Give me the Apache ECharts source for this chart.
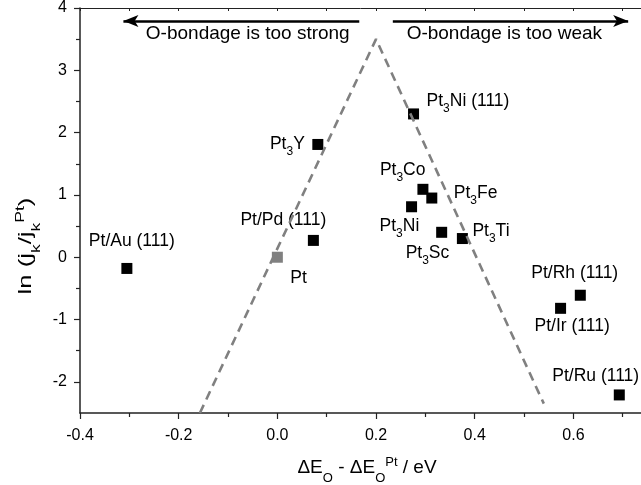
<!DOCTYPE html>
<html>
<head>
<meta charset="utf-8">
<script src="https://cdn.jsdelivr.net/npm/echarts@6/dist/echarts.min.js"></script>
<style>
  html, body { margin: 0; padding: 0; background: #fff; }
  #chart { width: 641px; height: 485px; }
</style>
</head>
<body>
<div id="chart"></div>
<script>
// Catalyst surfaces: oxygen binding energy shift vs. ORR activity
const catalysts = ['Pt/Au (111)', 'Pt', 'Pt/Pd (111)', 'Pt3Y', 'Pt3Ni (111)', 'Pt3Co', 'Pt3Fe',
                   'Pt3Ni', 'Pt3Sc', 'Pt3Ti', 'Pt/Rh (111)', 'Pt/Ir (111)', 'Pt/Ru (111)'];
const deltaEO    = [-0.305, 0.0, 0.073, 0.082, 0.276, 0.295, 0.313, 0.272, 0.333, 0.375, 0.614, 0.574, 0.693];
const lnActivity = [-0.18, 0.0, 0.27, 1.81, 2.30, 1.09, 0.95, 0.81, 0.40, 0.30, -0.61, -0.82, -2.21];

// Volcano guide line (dashed)
const volcanoX = [-0.157, 0.2, 0.54];
const volcanoY = [-2.5, 3.5, -2.35];

// Trend arrows along the top: [from, to] in data units, head at "to"
const arrowY = 3.79;
const strongArrowX = [0.166, -0.312];
const weakArrowX = [0.234, 0.711];

// Axis ticks
const xTicks = [-0.4, -0.2, 0.0, 0.2, 0.4, 0.6];
const xMinorTicks = [-0.3, -0.1, 0.1, 0.3, 0.5, 0.7];
const yTicks = [-2, -1, 0, 1, 2, 3, 4];
const yMinorTicks = [-1.5, -0.5, 0.5, 1.5, 2.5, 3.5];

// Label placement per point: [align, dx, dy] relative to the marker centre (px)
const labelLayout = [
  ['left', -38, -27], ['left', 13, 21], ['left', -73, -20], ['right', -13, 0],
  ['left', 13, -13], ['left', -43, -19], ['left', 22, -5], ['left', -32, 19],
  ['left', -36, 21], ['left', 10, -7], ['left', -49, -22], ['left', -26, 18],
  ['left', -67, -19]
];

const FONT = '"Liberation Sans", Arial, sans-serif';
const AXIS_COLOR = '#222';

const labelRich = {
  m: { fontFamily: FONT, fontSize: 17.5, color: '#000', lineHeight: 19 },
  s: { fontFamily: FONT, fontSize: 12, color: '#000', lineHeight: 12, padding: [15, 0, 0, 0] }
};
function richName(name) {
  const m = name.match(/^Pt3(.*)$/);
  if (m) return '{m|Pt}{s|3}{m|' + m[1] + '}';
  return '{m|' + name + '}';
}

const titleRich = {
  m: { fontFamily: FONT, fontSize: 19, color: '#000', lineHeight: 21 },
  s: { fontFamily: FONT, fontSize: 13, color: '#000', lineHeight: 13, padding: [20, 0, 0, 0] },
  p: { fontFamily: FONT, fontSize: 13, color: '#000', lineHeight: 13, padding: [0, 0, 12, 0] }
};

const points = catalysts.map((name, i) => ({
  name: name,
  value: [deltaEO[i], lnActivity[i]],
  itemStyle: { color: name === 'Pt' ? '#808080' : '#000', opacity: 1 },
  label: {
    show: true,
    position: 'inside',
    align: labelLayout[i][0],
    verticalAlign: 'middle',
    offset: [labelLayout[i][1], labelLayout[i][2]],
    formatter: richName(name),
    rich: labelRich
  }
}));

const chart = echarts.init(document.getElementById('chart'), null, { renderer: 'canvas' });

const xBase = { type: 'value', min: -0.4, max: 0.737, splitLine: { show: false } };
const yBase = { type: 'value', min: -2.5, max: 4, splitLine: { show: false } };

chart.setOption({
  animation: false,
  backgroundColor: '#fff',
  grid: { left: 80, right: 0, top: 8, bottom: 72, containLabel: false },
  xAxis: [
    Object.assign({}, xBase, {
      position: 'bottom',
      axisLine: { show: true, onZero: false, lineStyle: { color: AXIS_COLOR, width: 1.5 } },
      axisTick: { show: true, length: 4, customValues: xMinorTicks, lineStyle: { color: AXIS_COLOR, width: 1.2 } },
      axisLabel: { show: true, customValues: xTicks, margin: 15, color: '#000', fontFamily: FONT, fontSize: 16,
                   formatter: v => v.toFixed(1) }
    }),
    Object.assign({}, xBase, {
      position: 'bottom',
      axisLine: { show: false, onZero: false },
      axisTick: { show: true, length: 6, customValues: xTicks, lineStyle: { color: AXIS_COLOR, width: 1.2 } },
      axisLabel: { show: false }
    }),
    Object.assign({}, xBase, {
      position: 'top',
      axisLine: { show: true, onZero: false, lineStyle: { color: AXIS_COLOR, width: 1 } },
      axisTick: { show: true, inside: true, length: 3, customValues: xTicks.concat(xMinorTicks),
                  lineStyle: { color: AXIS_COLOR, width: 1 } },
      axisLabel: { show: false }
    })
  ],
  yAxis: [
    Object.assign({}, yBase, {
      position: 'left',
      axisLine: { show: true, onZero: false, lineStyle: { color: AXIS_COLOR, width: 1.5 } },
      axisTick: { show: true, length: 4, customValues: yMinorTicks, lineStyle: { color: AXIS_COLOR, width: 1.2 } },
      axisLabel: { show: true, customValues: yTicks, margin: 13, color: '#000', fontFamily: FONT, fontSize: 16 }
    }),
    Object.assign({}, yBase, {
      position: 'left',
      axisLine: { show: false, onZero: false },
      axisTick: { show: true, length: 6, customValues: yTicks, lineStyle: { color: AXIS_COLOR, width: 1.2 } },
      axisLabel: { show: false }
    })
  ],
  series: [
    {
      name: 'catalysts',
      type: 'scatter',
      xAxisIndex: 0, yAxisIndex: 0,
      symbol: 'rect',
      symbolSize: 11,
      z: 2,
      itemStyle: { opacity: 1 },
      data: points
    },
    {
      name: 'volcano',
      type: 'line',
      xAxisIndex: 0, yAxisIndex: 0,
      data: volcanoX.map((x, i) => [x, volcanoY[i]]),
      showSymbol: false,
      symbol: 'none',
      z: 3,
      silent: true,
      lineStyle: { color: '#808080', width: 2.6, type: [9, 6] },
      markLine: {
        silent: true,
        symbol: ['none', 'arrow'],
        symbolSize: [9, 15],
        label: { show: false },
        lineStyle: { color: '#000', width: 2.7, type: 'solid' },
        data: [
          [{ coord: [strongArrowX[0], arrowY] }, { coord: [strongArrowX[1], arrowY] }],
          [{ coord: [weakArrowX[0], arrowY] }, { coord: [weakArrowX[1], arrowY] }]
        ]
      }
    }
  ]
});

// Text annotations anchored to data positions
const strongAt = chart.convertToPixel({ xAxisIndex: 0, yAxisIndex: 0 }, [-0.06, 3.58]);
const weakAt = chart.convertToPixel({ xAxisIndex: 0, yAxisIndex: 0 }, [0.46, 3.58]);
const yTitleAt = [26, 246];
const xTitleAt = [367, 468];

const annoStyle = { fontFamily: FONT, fontSize: 19, fill: '#000', align: 'center', verticalAlign: 'middle' };

chart.setOption({
  graphic: [
    { type: 'text', id: 'strong', x: strongAt[0], y: strongAt[1], silent: true,
      style: Object.assign({ text: 'O-bondage is too strong' }, annoStyle) },
    { type: 'text', id: 'weak', x: weakAt[0], y: weakAt[1], silent: true,
      style: Object.assign({ text: 'O-bondage is too weak' }, annoStyle) },
    { type: 'text', id: 'ytitle', x: yTitleAt[0], y: yTitleAt[1], rotation: Math.PI / 2, scaleX: 1.35, silent: true,
      style: { text: '{m|ln (j}{s|k}{m|/j}{s|k}{p|Pt}{m|)}', rich: titleRich, align: 'center', verticalAlign: 'middle' } },
    { type: 'text', id: 'xtitle', x: xTitleAt[0], y: xTitleAt[1], silent: true,
      style: { text: '{m|\u0394E}{s|O}{m| - \u0394E}{s|O}{p|Pt}{m| / eV}', rich: titleRich, align: 'center', verticalAlign: 'middle' } }
  ]
});
</script>
</body>
</html>
